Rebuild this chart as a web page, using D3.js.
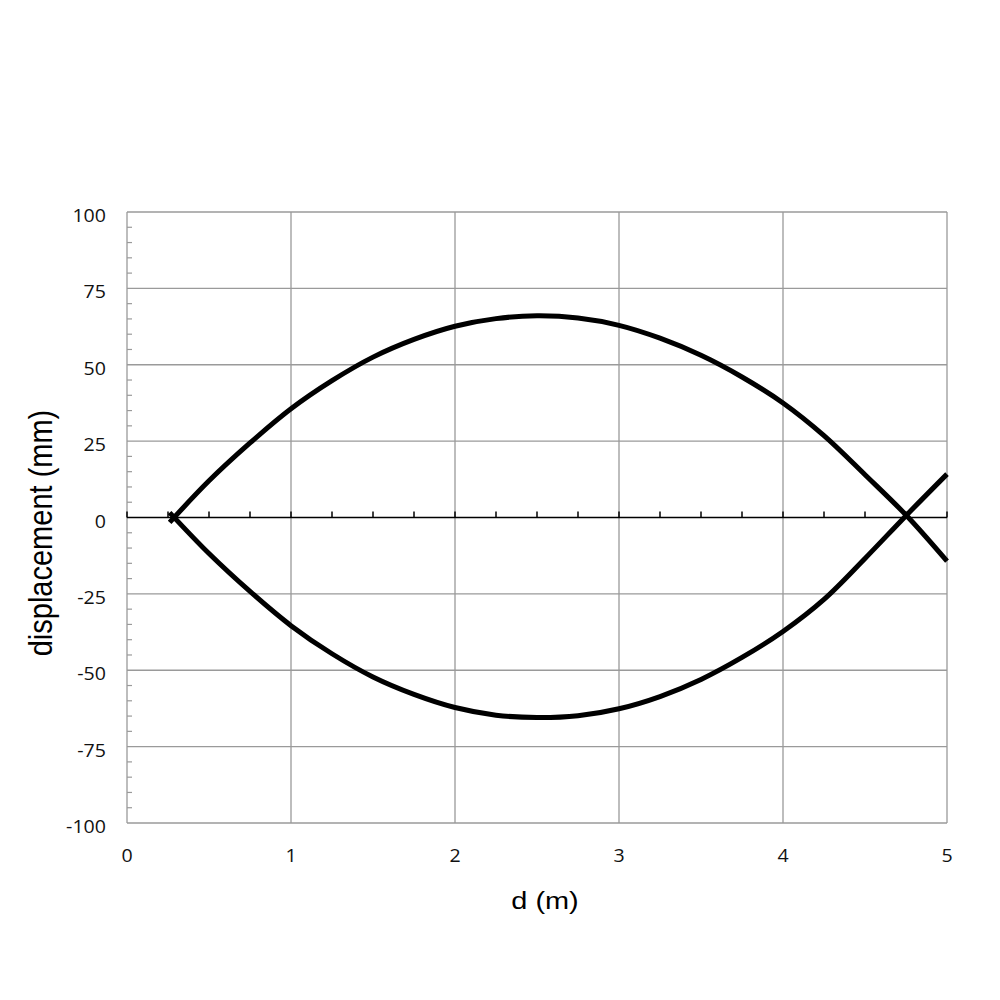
<!DOCTYPE html>
<html>
<head>
<meta charset="utf-8">
<script src="https://cdn.jsdelivr.net/npm/d3@7"></script>
<style>
  html, body { margin: 0; padding: 0; background: #fff; }
  svg { display: block; }
</style>
</head>
<body>
<svg id="chart" width="1000" height="1000"></svg>
<script>
// ---- data ----
const dUpper = [0.26, 0.5, 0.75, 1.0, 1.25, 1.5, 1.75, 2.0, 2.25, 2.5, 2.75, 3.0, 3.25, 3.5, 3.75, 4.0, 4.25, 4.5, 4.75, 5.0];
const dispUpper = [-1.6, 12.0, 24.4, 35.6, 44.8, 52.5, 58.3, 62.6, 65.1, 66.0, 65.3, 62.9, 58.7, 53.1, 46.0, 37.5, 26.8, 14.0, 0.8, -14.3];
const dLower = [0.26, 0.5, 0.75, 1.0, 1.25, 1.5, 1.75, 2.0, 2.25, 2.5, 2.75, 3.0, 3.25, 3.5, 3.75, 4.0, 4.25, 4.5, 4.75, 5.0];
const dispLower = [1.6, -11.8, -24.2, -35.4, -44.6, -52.2, -57.9, -62.2, -64.7, -65.5, -64.9, -62.6, -58.6, -53.0, -45.8, -37.3, -26.8, -13.4, 0.6, 14.2];
const xTicks = [0, 1, 2, 3, 4, 5];
const yTicks = [-100, -75, -50, -25, 0, 25, 50, 75, 100];
const xTitle = "d (m)";
const yTitle = "displacement (mm)";

// ---- layout ----
const svg = d3.select("#chart");
const pL = 127, pR = 947, pT = 212, pB = 823;
const x = d3.scaleLinear().domain([0, 5]).range([pL, pR]);
const y = d3.scaleLinear().domain([-100, 100]).range([pB, pT]);
const grid = "#9a9a9a";
const tickFont = "'Open Sans', 'DejaVu Sans', sans-serif";
const titleFont = "'Liberation Sans', Arial, sans-serif";

// gridlines
const g = svg.append("g");
g.selectAll("line.hg").data(yTicks.filter(v => v !== 0)).enter().append("line")
  .attr("x1", pL).attr("x2", pR)
  .attr("y1", d => y(d)).attr("y2", d => y(d))
  .attr("stroke", grid).attr("stroke-width", 1.3);
g.selectAll("line.vg").data(xTicks).enter().append("line")
  .attr("x1", d => x(d)).attr("x2", d => x(d))
  .attr("y1", pT).attr("y2", pB)
  .attr("stroke", grid).attr("stroke-width", 1.3);

// y minor ticks on left axis (every 5)
const yMinor = d3.range(-95, 100, 5).filter(v => v % 25 !== 0);
g.selectAll("line.ym").data(yMinor).enter().append("line")
  .attr("x1", pL).attr("x2", pL + 5)
  .attr("y1", d => y(d)).attr("y2", d => y(d))
  .attr("stroke", grid).attr("stroke-width", 1.2);

// zero axis line with ticks every 0.25
svg.append("line")
  .attr("x1", pL).attr("x2", pR)
  .attr("y1", y(0)).attr("y2", y(0))
  .attr("stroke", "#000").attr("stroke-width", 1.5);
const xMinor = d3.range(0, 5.001, 0.25);
svg.selectAll("line.xm").data(xMinor).enter().append("line")
  .attr("x1", d => x(d)).attr("x2", d => x(d))
  .attr("y1", y(0)).attr("y2", y(0) - 6)
  .attr("stroke", "#000").attr("stroke-width", 1.5);

// y tick labels (slightly widened glyphs)
svg.selectAll("text.yl").data(yTicks).enter().append("text")
  .attr("transform", d => `translate(106,${y(d) + 10}) scale(1.12,1)`)
  .attr("text-anchor", "end")
  .attr("font-family", tickFont).attr("font-size", 17.5)
  .attr("fill", "#111")
  .text(d => d);

// x tick labels
svg.selectAll("text.xl").data(xTicks).enter().append("text")
  .attr("transform", d => `translate(${x(d)},862) scale(1.12,1)`)
  .attr("text-anchor", "middle")
  .attr("font-family", tickFont).attr("font-size", 17.5)
  .attr("fill", "#111")
  .text(d => d);

// axis titles
svg.append("text")
  .attr("transform", "translate(545,909) scale(1.18,1)")
  .attr("text-anchor", "middle")
  .attr("font-family", titleFont)
  .attr("font-size", 24.5).attr("fill", "#000")
  .text(xTitle);
svg.append("text")
  .attr("transform", "translate(52,533) rotate(-90) scale(1,1.15)")
  .attr("text-anchor", "middle")
  .attr("font-family", titleFont)
  .attr("font-size", 29).attr("fill", "#000")
  .text(yTitle);

// curves
const line = d3.line()
  .x(d => x(d[0])).y(d => y(d[1]))
  .curve(d3.curveCatmullRom.alpha(0.5));
const upper = dUpper.map((d, i) => [d, dispUpper[i]]);
const lower = dLower.map((d, i) => [d, dispLower[i]]);
[upper, lower].forEach(s => {
  svg.append("path")
    .datum(s)
    .attr("d", line)
    .attr("fill", "none")
    .attr("stroke", "#000")
    .attr("stroke-width", 5)
    .attr("stroke-linejoin", "round");
});
</script>
</body>
</html>
